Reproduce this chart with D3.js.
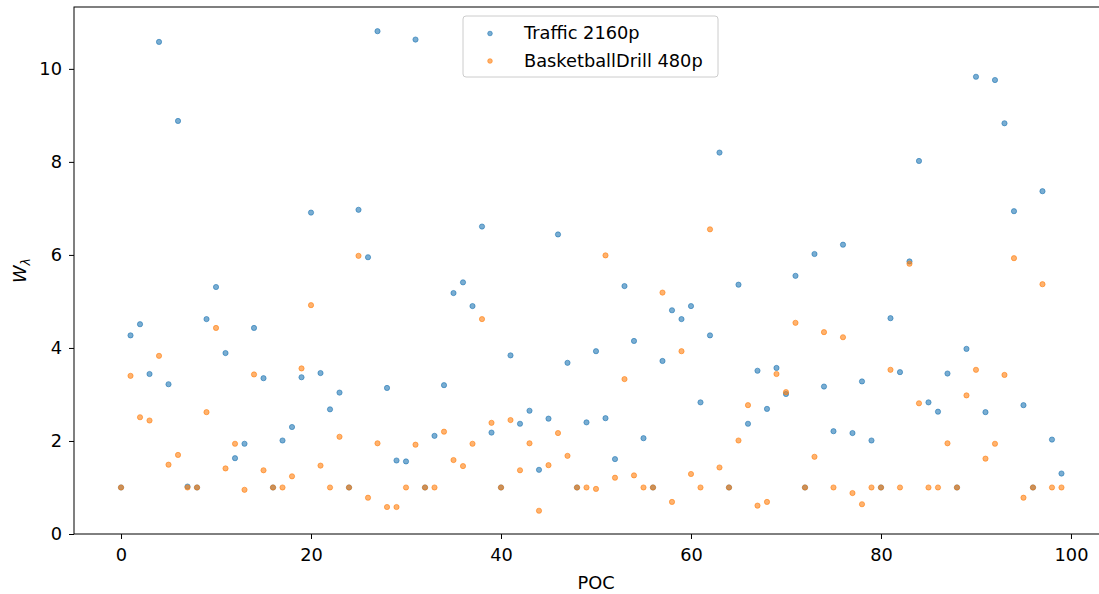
<!DOCTYPE html>
<html lang="en">
<head>
<meta charset="utf-8">
<title>W lambda per POC</title>
<script src="https://cdn.jsdelivr.net/npm/d3@7"></script>
<style>
  body { margin: 0; background: #fff; }
  text { font-family: "DejaVu Sans", sans-serif; fill: #000; }
</style>
</head>
<body>
<script>
// data, one value per POC 0..99
var seriesNames = ["Traffic 2160p", "BasketballDrill 480p"];
var traffic = [
  1.0, 4.27, 4.51, 3.44, 10.58, 3.22, 8.88, 1.02, 1.0, 4.62,
  5.31, 3.89, 1.63, 1.94, 4.43, 3.35, 1.0, 2.01, 2.30, 3.37,
  6.91, 3.46, 2.68, 3.04, 1.0, 6.97, 5.95, 10.81, 3.14, 1.58,
  1.56, 10.63, 1.0, 2.11, 3.20, 5.18, 5.41, 4.90, 6.61, 2.18,
  1.0, 3.84, 2.37, 2.65, 1.38, 2.48, 6.44, 3.68, 1.0, 2.40,
  3.93, 2.49, 1.61, 5.33, 4.15, 2.06, 1.0, 3.72, 4.81, 4.62,
  4.90, 2.83, 4.27, 8.20, 1.0, 5.36, 2.37, 3.51, 2.69, 3.57,
  3.01, 5.55, 1.0, 6.02, 3.17, 2.21, 6.22, 2.17, 3.28, 2.01,
  1.0, 4.64, 3.48, 5.86, 8.02, 2.83, 2.63, 3.45, 1.0, 3.98,
  9.83, 2.62, 9.76, 8.83, 6.94, 2.77, 1.0, 7.37, 2.03, 1.30
];
var basketball = [
  1.0, 3.40, 2.51, 2.44, 3.83, 1.49, 1.70, 1.0, 1.0, 2.62,
  4.43, 1.41, 1.94, 0.95, 3.43, 1.37, 1.0, 1.0, 1.24, 3.56,
  4.92, 1.47, 1.0, 2.09, 1.0, 5.98, 0.78, 1.95, 0.58, 0.58,
  1.0, 1.92, 1.0, 1.0, 2.20, 1.59, 1.46, 1.94, 4.62, 2.39,
  1.0, 2.45, 1.37, 1.95, 0.50, 1.48, 2.17, 1.68, 1.0, 1.0,
  0.97, 5.99, 1.21, 3.33, 1.26, 1.0, 1.0, 5.19, 0.69, 3.93,
  1.29, 1.0, 6.55, 1.43, 1.0, 2.01, 2.77, 0.61, 0.69, 3.44,
  3.05, 4.54, 1.0, 1.66, 4.34, 1.0, 4.23, 0.88, 0.64, 1.0,
  1.0, 3.53, 1.0, 5.81, 2.81, 1.0, 1.0, 1.95, 1.0, 2.98,
  3.53, 1.62, 1.94, 3.42, 5.93, 0.78, 1.0, 5.37, 1.0, 1.0
];
var xTicks = [0, 20, 40, 60, 80, 100];
var yTicks = [0, 2, 4, 6, 8, 10];
var colors = ["#1f77b4", "#ff7f0e"];

var width = 1099, height = 594;
var plotLeft = 74, plotTop = 7, plotBottom = 534, plotRight = 1108.5;

var svg = d3.select("body").append("svg")
  .attr("width", width)
  .attr("height", height);

var x = d3.scaleLinear().domain([-4.95, 103.95]).range([plotLeft, plotRight]);
var y = d3.scaleLinear().domain([0, 11.33]).range([plotBottom, plotTop]);

// points
var allSeries = [traffic, basketball];
allSeries.forEach(function(vals, s) {
  svg.append("g").selectAll("circle")
    .data(vals)
    .enter().append("circle")
    .attr("cx", function(d, i) { return x(i); })
    .attr("cy", function(d) { return y(d); })
    .attr("r", 2.6)
    .attr("fill", colors[s])
    .attr("fill-opacity", 0.6)
    .attr("stroke", colors[s])
    .attr("stroke-opacity", 0.6)
    .attr("stroke-width", 1);
});

// axes
var xAxis = svg.append("g")
  .attr("transform", "translate(0," + plotBottom + ")")
  .call(d3.axisBottom(x).tickValues(xTicks).tickSize(5).tickPadding(9));
var yAxis = svg.append("g")
  .attr("transform", "translate(" + plotLeft + ",0)")
  .call(d3.axisLeft(y).tickValues(yTicks).tickSize(5).tickPadding(7));
[xAxis, yAxis].forEach(function(a) {
  a.select(".domain").remove();
  a.selectAll("text").style("font-size", "17.8px").style("font-family", "DejaVu Sans");
  a.selectAll("line").attr("stroke", "#000").attr("stroke-width", 1);
});

// frame (right edge falls outside the picture)
svg.append("rect")
  .attr("x", plotLeft).attr("y", plotTop)
  .attr("width", plotRight - plotLeft).attr("height", plotBottom - plotTop)
  .attr("fill", "none").attr("stroke", "#000").attr("stroke-width", 1);

// axis labels
svg.append("text")
  .attr("x", x(50)).attr("y", 589)
  .attr("text-anchor", "middle")
  .style("font-size", "17.8px")
  .text("POC");

var yl = svg.append("text")
  .attr("transform", "translate(26," + ((plotTop + plotBottom) / 2) + ") rotate(-90)")
  .attr("text-anchor", "middle")
  .style("font-size", "17.8px");
yl.append("tspan").style("font-style", "italic").text("W");
yl.append("tspan").attr("dy", 4).style("font-size", "12.5px").style("font-style", "italic").text("λ");

// legend
var lg = svg.append("g").attr("transform", "translate(463,16)");
lg.append("rect")
  .attr("width", 255).attr("height", 61)
  .attr("rx", 3)
  .attr("fill", "#fff").attr("fill-opacity", 0.8)
  .attr("stroke", "#ccc").attr("stroke-width", 1);
seriesNames.forEach(function(name, s) {
  var row = lg.append("g").attr("transform", "translate(0," + (17.5 + s * 27.5) + ")");
  row.append("circle")
    .attr("cx", 27).attr("cy", 0).attr("r", 2.3)
    .attr("fill", colors[s]).attr("fill-opacity", 0.6)
    .attr("stroke", colors[s]).attr("stroke-opacity", 0.6);
  row.append("text")
    .attr("x", 61).attr("y", 5.5)
    .style("font-size", "17.8px")
    .text(name);
});
</script>
</body>
</html>
